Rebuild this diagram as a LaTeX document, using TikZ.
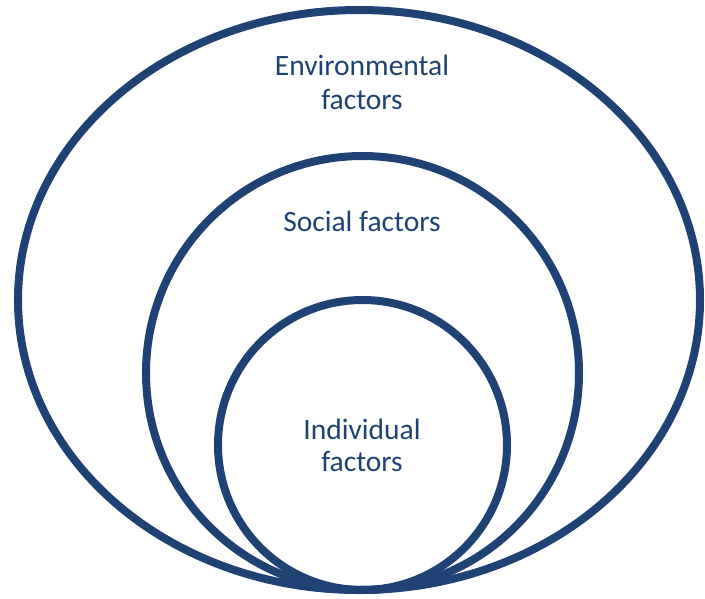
\documentclass[tikz,border=0pt]{standalone}
\usepackage{fontspec}
\setmainfont{Carlito}
\usetikzlibrary{shapes.geometric}
\definecolor{ringblue}{RGB}{31,66,117}
\begin{document}
\begin{tikzpicture}[x=1pt,y=-1pt]
\useasboundingbox (0,0) rectangle (705,598);
\node[ellipse,draw=ringblue,line width=8pt,minimum width=682pt,minimum height=580pt,inner sep=0pt] (E) at (359,300) {};
\node[ellipse,draw=ringblue,line width=8pt,minimum width=433pt,minimum height=434pt,inner sep=0pt] (S) at (362.5,373) {};
\node[ellipse,draw=ringblue,line width=8pt,minimum width=289pt,minimum height=290pt,inner sep=0pt] (I) at (362.5,445) {};
\node[text=ringblue,align=center,font=\fontsize{29.5}{34}\selectfont] (Etxt) at (362,82) {Environmental\\factors};
\node[text=ringblue,align=center,font=\fontsize{29.5}{34}\selectfont] (Stxt) at (362,221) {Social factors};
\node[text=ringblue,align=center,font=\fontsize{29.5}{32}\selectfont] (Itxt) at (362,445) {Individual\\factors};
\end{tikzpicture}
\end{document}
